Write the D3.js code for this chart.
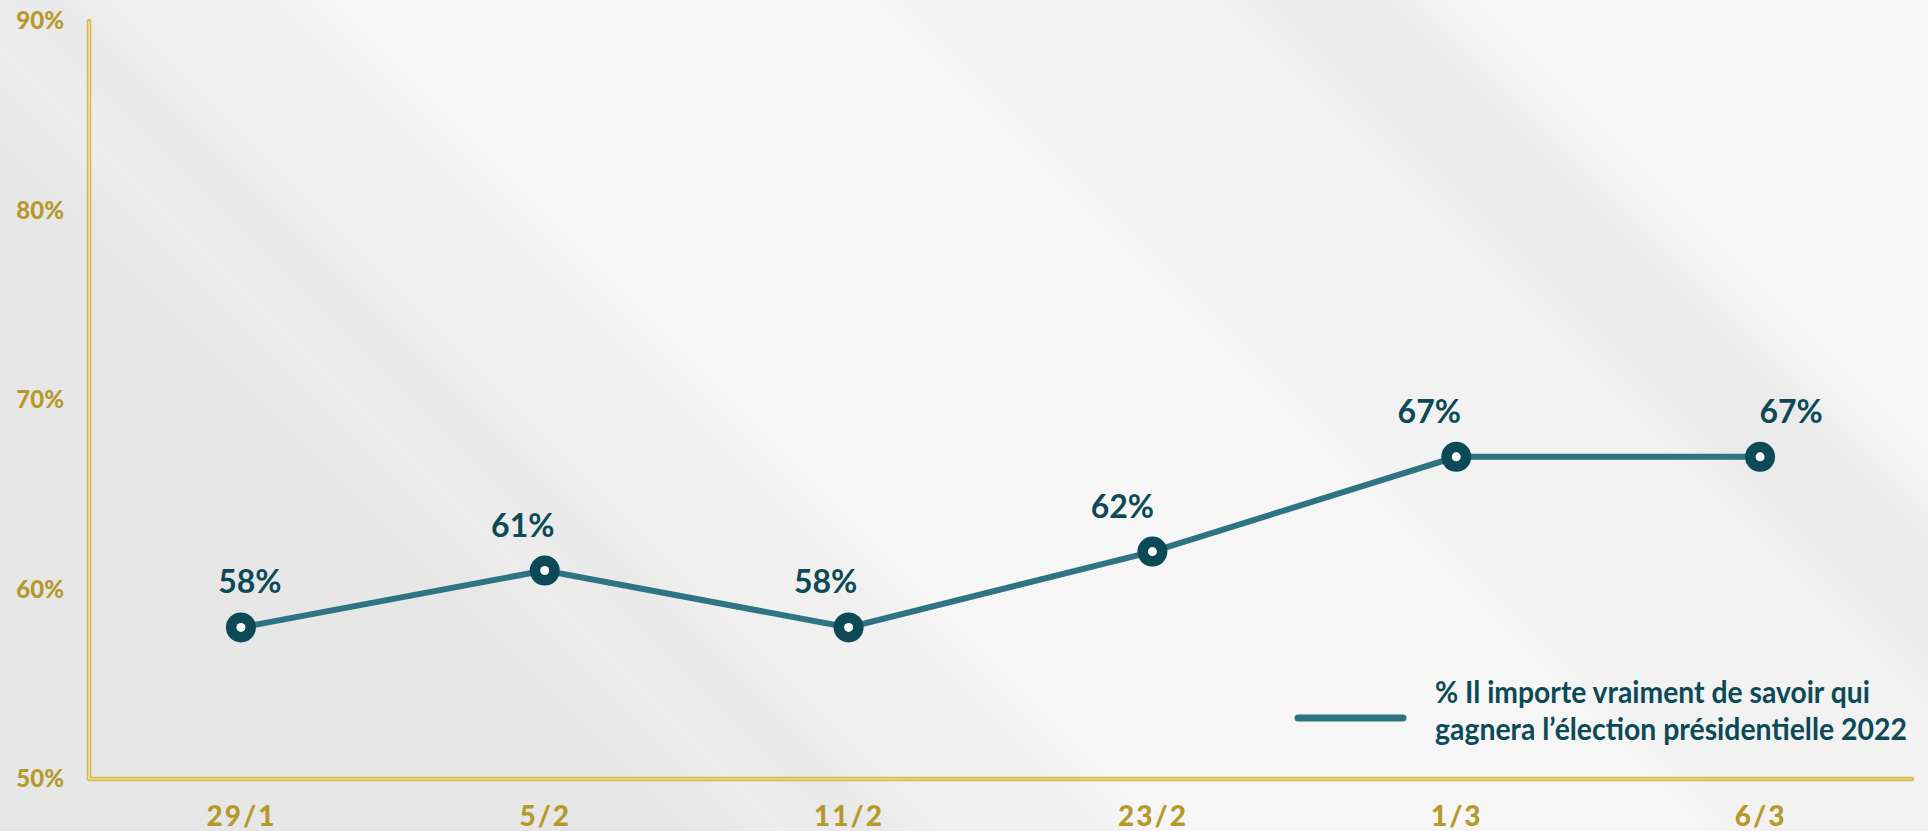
<!DOCTYPE html>
<html>
<head>
<meta charset="utf-8">
<script src="https://cdn.jsdelivr.net/npm/d3@7/dist/d3.min.js"></script>
<style>
  html, body { margin: 0; padding: 0; background: #f0f0f0; }
  #graph { width: 1928px; height: 831px; }
  text { font-family: Lato, "Open Sans", sans-serif; font-weight: 700; }
</style>
</head>
<body>
<div id="graph"></div>
<script>
"use strict"
// data
var dates = ["29/1", "5/2", "11/2", "23/2", "1/3", "6/3"]
var values = [58, 61, 58, 62, 67, 67]
var yTicks = [50, 60, 70, 80, 90]
var seriesName = ["% Il importe vraiment de savoir qui", "gagnera l\u2019élection présidentielle 2022"]

var width = 1928, height = 831
var margin = {top: 21, left: 89, bottom: 52, right: 16}
var gold = "#d6bb47", goldText = "#b59a2b", teal = "#2f7482", tealDark = "#0d4a58"
// label nudges, as placed by hand in the original
var labelDx = [9, -22, -23, -30, -27, 31]

var svg = d3.select("#graph").append("svg")
	.attr("width", width).attr("height", height)

// background with soft diagonal bands
var defs = svg.append("defs")
defs.append("filter").attr("id", "soft")
	.attr("x", "-20%").attr("y", "-20%").attr("width", "140%").attr("height", "140%")
	.append("feGaussianBlur").attr("stdDeviation", 18)
svg.append("rect").attr("width", width).attr("height", height).attr("fill", "#f0f0f0")
var bg = svg.append("g").attr("filter", "url(#soft)")
var bands = [
	[-900, -80, "#e7e7e7", 0.9],
	[-60, 20, "#e9e9e9", 0.7],
	[25, 70, "#e3e3e3", 0.7],
	[300, 900, "#f7f7f7", 0.9],
	[900, 1250, "#f3f3f3", 0.8],
	[1250, 1420, "#e8e8e8", 0.7],
	[1420, 2000, "#f6f6f6", 1],
	[2000, 2300, "#ebebeb", 0.7]
]
bg.selectAll("polygon").data(bands).enter().append("polygon")
	.attr("points", function(d) {
		return [[d[0] - 100, -100], [d[1] - 100, -100], [d[1] + height + 100, height + 100], [d[0] + height + 100, height + 100]].join(" ")
	})
	.attr("fill", function(d) { return d[2] })
	.attr("opacity", function(d) { return d[3] })

var x = d3.scalePoint().domain(dates)
	.range([margin.left, width - margin.right]).padding(0.5)
var y = d3.scaleLinear().domain([50, 90])
	.range([height - margin.bottom, margin.top])

// axis lines (double gold rule)
var axisPath = "M" + margin.left + "," + margin.top + "V" + y(50) + "H" + (width - margin.right)
svg.append("path").attr("d", axisPath).attr("fill", "none")
	.attr("stroke", gold).attr("stroke-width", 4.5).attr("stroke-linecap", "round").attr("stroke-linejoin", "round")
svg.append("path").attr("d", axisPath).attr("fill", "none")
	.attr("stroke", "#f4ecc4").attr("stroke-width", 1.2)

var yAxis = svg.append("g")
	.attr("transform", "translate(" + (margin.left - 25) + ",0)")
	.call(d3.axisLeft(y).tickValues(yTicks).tickSize(0).tickPadding(0).tickFormat(function(d) { return d + "%" }))
yAxis.select(".domain").remove()
yAxis.selectAll("text")
	.attr("fill", goldText).style("font-size", "24px").style("font-weight", 900)

var xAxis = svg.append("g")
	.attr("transform", "translate(0," + y(50) + ")")
	.call(d3.axisBottom(x).tickSize(0).tickPadding(27))
xAxis.select(".domain").remove()
xAxis.selectAll("text")
	.attr("fill", goldText).style("font-size", "28px").style("font-weight", 900)
	.style("letter-spacing", "2px")

// series line
var line = d3.line()
	.x(function(d, i) { return x(dates[i]) })
	.y(function(d) { return y(d) })
svg.append("path").datum(values)
	.attr("d", line).attr("fill", "none")
	.attr("stroke", teal).attr("stroke-width", 6)

var pts = svg.append("g").selectAll("g").data(values).enter().append("g")
	.attr("transform", function(d, i) { return "translate(" + x(dates[i]) + "," + y(d) + ")" })
pts.append("circle").attr("r", 15).attr("fill", tealDark)
pts.append("circle").attr("r", 4.5).attr("fill", "#ffffff")
pts.append("text")
	.attr("x", function(d, i) { return labelDx[i] })
	.attr("y", -34)
	.attr("text-anchor", "middle")
	.attr("fill", tealDark)
	.style("font-size", "32px")
	.text(function(d) { return d + "%" })

// legend
var legend = svg.append("g")
legend.append("line")
	.attr("x1", 1298).attr("x2", 1403).attr("y1", 718).attr("y2", 718)
	.attr("stroke", teal).attr("stroke-width", 7).attr("stroke-linecap", "round")
var legendWidths = [435, 472]
legend.selectAll("g.entry").data(seriesName).enter().append("g")
	.attr("class", "entry")
	.each(function(d, i) {
		var g = d3.select(this)
		var t = g.append("text")
			.attr("fill", tealDark)
			.style("font-size", "31px")
			.text(d)
		var k = legendWidths[i] / t.node().getComputedTextLength()
		g.attr("transform", "translate(1435," + (703 + i * 37) + ") scale(" + k + ",1)")
	})
</script>
</body>
</html>
